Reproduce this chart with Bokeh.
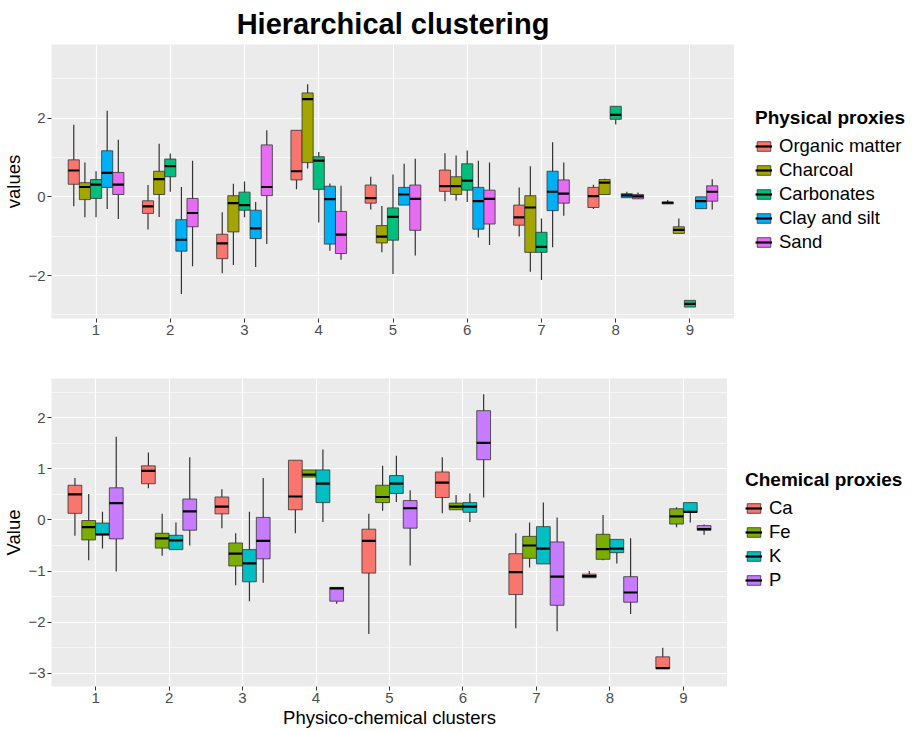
from bokeh.plotting import figure
from bokeh.layouts import column, row
from bokeh.models import (ColumnDataSource, Range1d, FixedTicker, SingleIntervalTicker,
                          Legend, LegendItem)
from bokeh.embed import file_html
from bokeh.resources import INLINE

clusters = [1, 2, 3, 4, 5, 6, 7, 8, 9]
cluster_labels = [str(c) for c in clusters]

# Box statistics per cluster: (lower whisker, Q1, median, Q3, upper whisker)
physical_names = ["Organic matter", "Charcoal", "Carbonates", "Clay and silt", "Sand"]
organic_matter = [(-0.24, 0.32, 0.67, 0.94, 1.83), (-0.83, -0.42, -0.24, -0.10, 0.30),
                  (-1.94, -1.57, -1.18, -0.95, -0.39), (0.19, 0.43, 0.65, 1.69, 1.69),
                  (-0.32, -0.16, -0.03, 0.30, 0.51), (-0.11, 0.14, 0.27, 0.68, 1.11),
                  (-1.01, -0.72, -0.52, -0.21, 0.24), (-0.31, -0.27, 0.02, 0.24, 0.31),
                  (-0.18, -0.18, -0.15, -0.13, -0.08)]
charcoal = [(-0.52, -0.07, 0.25, 0.36, 0.87), (-0.51, 0.06, 0.45, 0.65, 1.35),
            (-1.73, -0.89, -0.16, 0.03, 0.33), (0.72, 0.87, 2.48, 2.64, 2.86),
            (-1.41, -1.17, -1.01, -0.73, -0.23), (-0.09, 0.06, 0.27, 0.51, 1.05),
            (-1.90, -1.41, -0.27, 0.03, 0.78), (0.06, 0.06, 0.36, 0.44, 0.46),
            (-0.93, -0.93, -0.84, -0.76, -0.55)]
carbonates = [(-0.52, -0.04, 0.31, 0.44, 0.65), (0.13, 0.51, 0.78, 0.96, 1.10),
              (-0.52, -0.34, -0.21, 0.12, 0.39), (-0.65, 0.19, 0.92, 1.02, 1.14),
              (-1.96, -1.10, -0.51, -0.28, 0.57), (-0.13, 0.17, 0.41, 0.84, 1.18),
              (-2.11, -1.41, -1.27, -0.90, -0.55), (1.84, 1.97, 2.08, 2.30, 2.30),
              (-2.80, -2.80, -2.72, -2.63, -2.63)]
clay_silt = [(-0.31, 0.24, 0.61, 1.17, 2.19), (-2.47, -1.38, -1.09, -0.58, 0.25),
             (-1.78, -1.06, -0.80, -0.34, -0.13), (-1.37, -1.20, -0.06, 0.27, 0.34),
             (-0.21, -0.21, 0.06, 0.24, 0.84), (-1.03, -0.82, -0.11, 0.24, 0.92),
             (-1.28, -0.35, 0.13, 0.65, 1.39), (-0.02, -0.02, 0.04, 0.08, 0.13),
             (-0.30, -0.30, -0.11, 0.0, 0.0)]
sand = [(-0.56, 0.06, 0.31, 0.62, 1.45), (-1.76, -0.76, -0.41, -0.04, 0.92),
        (-1.20, 0.03, 0.25, 1.32, 1.69), (-1.60, -1.44, -0.96, -0.37, 0.28),
        (-1.49, -0.85, -0.05, 0.30, 0.97), (-1.22, -0.69, -0.05, 0.17, 0.87),
        (-0.48, -0.16, 0.08, 0.43, 0.87), (-0.05, -0.05, 0.01, 0.06, 0.11),
        (-0.32, -0.11, 0.13, 0.28, 0.45)]
physical_colors = ["#F8766D", "#A3A500", "#00BF7D", "#00B0F6", "#E76BF3"]

chemical_names = ["Ca", "Fe", "K", "P"]
ca = [(-0.31, 0.13, 0.50, 0.68, 0.82), (0.62, 0.71, 0.96, 1.06, 1.32),
      (-0.16, 0.12, 0.26, 0.45, 0.60), (-0.26, 0.20, 0.46, 1.17, 1.17),
      (-2.23, -1.04, -0.41, -0.18, 0.12), (0.13, 0.44, 0.73, 0.94, 1.23),
      (-2.12, -1.46, -1.02, -0.66, -0.26), (-1.13, -1.13, -1.10, -1.06, -1.00),
      (-2.91, -2.91, -2.90, -2.68, -2.50)]
fe = [(-0.79, -0.39, -0.14, -0.01, 0.51), (-0.70, -0.55, -0.36, -0.26, 0.12),
      (-1.28, -0.90, -0.66, -0.45, -0.26), (0.84, 0.84, 0.89, 0.98, 0.98),
      (0.18, 0.34, 0.45, 0.68, 1.06), (0.20, 0.20, 0.26, 0.33, 0.49),
      (-0.93, -0.75, -0.50, -0.32, -0.05), (-0.79, -0.77, -0.57, -0.28, 0.10),
      (-0.14, -0.08, 0.07, 0.22, 0.25)]
k = [(-0.56, -0.29, -0.28, -0.06, 0.16), (-0.58, -0.58, -0.40, -0.30, -0.05),
     (-1.59, -1.21, -0.85, -0.58, 0.16), (-0.04, 0.34, 0.71, 0.98, 1.38),
     (0.35, 0.52, 0.71, 0.87, 1.26), (-0.04, 0.15, 0.26, 0.34, 0.52),
     (-0.86, -0.86, -0.56, -0.13, 0.34), (-0.85, -0.64, -0.56, -0.38, -0.38),
     (-0.05, 0.15, 0.16, 0.34, 0.34)]
p_ = [(-1.01, -0.37, 0.33, 0.63, 1.63), (-0.50, -0.20, 0.17, 0.41, 1.23),
      (-1.23, -0.76, -0.41, 0.05, 0.82), (-1.64, -1.59, -1.34, -1.32, -1.32),
      (-0.89, -0.16, 0.23, 0.38, 0.58), (0.44, 1.18, 1.51, 2.14, 2.46),
      (-2.18, -1.67, -1.11, -0.43, 0.05), (-1.84, -1.61, -1.42, -1.11, -0.36),
      (-0.29, -0.20, -0.18, -0.11, -0.09)]
chemical_colors = ["#F8766D", "#7CAE00", "#00BFC4", "#C77CFF"]

FONT = "Liberation Sans"
PANEL_BG = "#EBEBEB"


def style_panel(p, y_ticker, xlabel, ylabel):
    p.background_fill_color = PANEL_BG
    p.border_fill_color = "white"
    p.outline_line_color = None
    p.xaxis.ticker = FixedTicker(ticks=clusters)
    p.xaxis.major_label_overrides = {c: l for c, l in zip(clusters, cluster_labels)}
    p.yaxis.ticker = y_ticker
    p.xgrid.ticker = FixedTicker(ticks=clusters)
    for g in (p.xgrid, p.ygrid):
        g.grid_line_color = "white"
        g.grid_line_width = 1.2
    p.ygrid.minor_grid_line_color = "white"
    p.ygrid.minor_grid_line_width = 0.6
    for ax in (p.xaxis, p.yaxis):
        ax.axis_line_color = None
        ax.major_tick_line_color = "#333333"
        ax.major_tick_in = 0
        ax.major_tick_out = 4
        ax.minor_tick_line_color = None
        ax.major_label_text_font = FONT
        ax.major_label_text_font_size = "15px"
        ax.major_label_text_color = "#4D4D4D"
        ax.major_label_standoff = 2
        ax.axis_label_text_font = FONT
        ax.axis_label_text_font_style = "normal"
        ax.axis_label_text_font_size = "18.5px"
        ax.axis_label_text_color = "black"
        ax.axis_label_standoff = 1
    p.xaxis.axis_label = xlabel
    p.yaxis.axis_label = ylabel


def draw_boxes(p, groups, colors, dodge):
    n = len(groups)
    bw = dodge / n
    for i, (stats, col) in enumerate(zip(groups, colors)):
        off = -dodge / 2 + bw * (i + 0.5)
        xs = [c + off for c in clusters]
        src = ColumnDataSource(dict(
            x=xs,
            x0=[x - bw / 2 for x in xs],
            x1=[x + bw / 2 for x in xs],
            lo=[s[0] for s in stats], q1=[s[1] for s in stats],
            med=[s[2] for s in stats], q3=[s[3] for s in stats],
            hi=[s[4] for s in stats]))
        p.segment(x0="x", y0="lo", x1="x", y1="hi", source=src,
                  line_color="#333333", line_width=1.2)
        p.vbar(x="x", width=bw, bottom="q1", top="q3", source=src,
               fill_color=col, line_color="#333333", line_width=0.8)
        p.segment(x0="x0", y0="med", x1="x1", y1="med", source=src,
                  line_color="black", line_width=2.2)


def legend_panel(names, colors, title, width, height, loc):
    # A blank canvas holding only the key for one panel; its stand-in glyphs
    # sit outside the visible range so only their legend swatches show.
    lp = figure(width=width, height=height, output_backend="svg", toolbar_location=None,
                x_range=Range1d(0, 1), y_range=Range1d(0, 1), min_border=0)
    lp.axis.visible = False
    lp.grid.visible = False
    lp.outline_line_color = None
    lp.background_fill_color = "white"
    items = []
    for name, col in zip(names, colors):
        offscreen = ColumnDataSource(dict(x=[5.0], y=[5.0], top=[5.5], bottom=[4.5]))
        box = lp.vbar(x="x", width=0.1, bottom="bottom", top="top", source=offscreen,
                      fill_color=col, line_color="#333333", line_width=0.8)
        med = lp.segment(x0="x", y0="y", x1="x", y1="y", source=offscreen,
                         line_color="black", line_width=2.2)
        items.append(LegendItem(label=name, renderers=[box, med]))
    lg = Legend(items=items, title=title, location=loc)
    lg.title_text_font = FONT
    lg.title_text_font_style = "bold"
    lg.title_text_font_size = "19px"
    lg.title_text_color = "black"
    lg.title_standoff = 6
    lg.label_text_font = FONT
    lg.label_text_font_size = "18.5px"
    lg.label_text_color = "black"
    lg.label_standoff = 7
    lg.label_height = 22
    lg.glyph_width = 17
    lg.glyph_height = 12
    lg.spacing = 2
    lg.padding = 0
    lg.margin = 0
    lg.border_line_color = None
    lg.background_fill_alpha = 0
    lp.add_layout(lg)
    return lp


# Physical proxies panel
p1 = figure(width=734, height=350, output_backend="svg", toolbar_location=None,
            x_range=Range1d(0.4, 9.6), y_range=Range1d(-3.09, 3.87),
            min_border_left=48, min_border_right=0, min_border_top=42,
            min_border_bottom=32, title="Hierarchical clustering")
p1.title.align = "center"
p1.title.text_font = FONT
p1.title.text_font_size = "29px"
p1.title.text_font_style = "bold"
p1.title.text_color = "black"
style_panel(p1, SingleIntervalTicker(interval=2, num_minor_ticks=2), None, "values")
draw_boxes(p1, [organic_matter, charcoal, carbonates, clay_silt, sand],
           physical_colors, 0.75)
leg1 = legend_panel(physical_names, physical_colors, "Physical proxies", 182, 350, (21, 65))

# Chemical proxies panel
p2 = figure(width=727, height=381, output_backend="svg", toolbar_location=None,
            x_range=Range1d(0.4, 9.6), y_range=Range1d(-3.26, 2.77),
            min_border_left=48, min_border_right=0, min_border_top=28,
            min_border_bottom=45)
style_panel(p2, SingleIntervalTicker(interval=1, num_minor_ticks=2),
            "Physico-chemical clusters", "Value")
draw_boxes(p2, [ca, fe, k, p_], chemical_colors, 0.75)
leg2 = legend_panel(chemical_names, chemical_colors, "Chemical proxies", 189, 381, (18, 95))

layout = column(row(p1, leg1, spacing=0), row(p2, leg2, spacing=0), spacing=0)
open("out.html", "w").write(file_html(layout, INLINE))
